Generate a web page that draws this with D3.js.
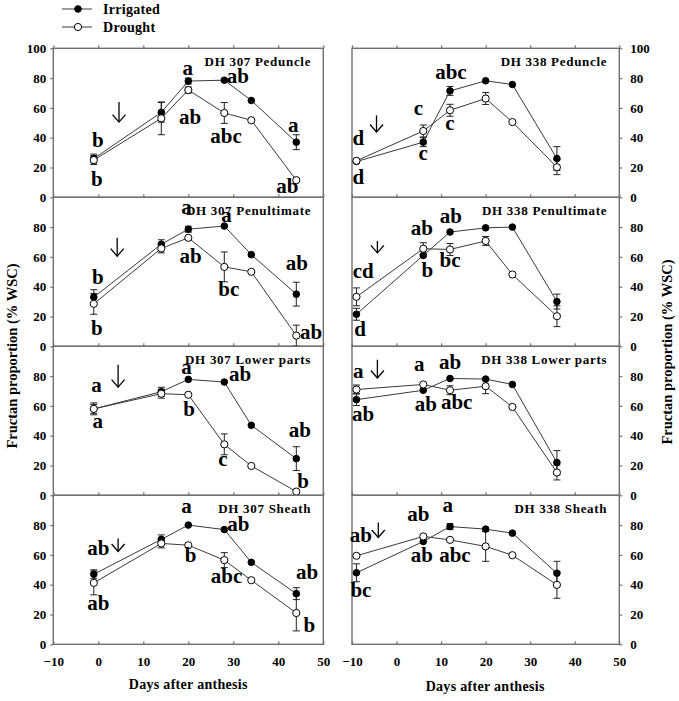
<!DOCTYPE html>
<html><head><meta charset="utf-8">
<script src="https://cdn.jsdelivr.net/npm/d3@7"></script>
<style>
html,body{margin:0;padding:0;background:#fff;}
text{font-family:"Liberation Serif","Times New Roman",serif;font-weight:bold;fill:#000;}
</style></head>
<body><svg id="chart" width="679" height="701"></svg>
<script>
// ---------------- data ----------------
const panelTitles = ["DH 307 Peduncle","DH 307 Penultimate","DH 307 Lower parts","DH 307 Sheath",
                     "DH 338 Peduncle","DH 338 Penultimate","DH 338 Lower parts","DH 338 Sheath"];
const daysDH307 = [-1, 14, 20, 28, 34, 44];
const daysDH338 = [-9, 6, 12, 20, 26, 36];
const seriesNames = ["Irrigated","Drought"];

const irrigatedMean = [
  [26, 57, 78, 78.6, 65, 37],
  [33, 68.5, 78.6, 80.7, 61.5, 35],
  [58, 69.5, 77.8, 76, 47, 24.6],
  [47, 70.4, 80, 77, 55, 34],
  [24, 37, 71.4, 78.2, 75.7, 26],
  [21.5, 61, 76.7, 79.5, 80, 30],
  [64.2, 70.5, 78.4, 78, 74.4, 22],
  [48, 69, 79, 77.3, 74.6, 47.7]
];
const irrigatedErr = [
  [3, 6.6, 2, 1, 1, 5],
  [5, 3, 2, 1, 1, 8],
  [3, 3, 1, 1, 1, 8],
  [3, 3, 1, 1, 1, 4],
  [1, 3, 3, 1, 1, 8],
  [4, 1, 1, 1, 1, 5],
  [4, 1, 1, 1, 1, 8],
  [6, 1, 2, 1, 1, 8]
];
const droughtMean = [
  [25, 53, 72, 56.6, 51.7, 11.5],
  [28.5, 65.7, 72.8, 53.3, 50, 7.2],
  [58, 68.2, 67.5, 34.2, 19.7, 2.5],
  [41.2, 67.7, 66.5, 56.5, 43, 21],
  [24.5, 44.5, 58.4, 66.3, 50.5, 20.2],
  [33.2, 65.5, 65, 70.7, 48.2, 20.2],
  [71, 74.4, 70.5, 73.2, 59.3, 15.3],
  [59.4, 72.4, 70.1, 65.7, 59.8, 39.9]
];
const droughtErr = [
  [3, 11, 2, 7, 1, 1],
  [7, 3, 1, 10, 1, 7],
  [4, 3, 1, 7, 1, 1],
  [8, 3, 1, 5, 1, 12],
  [1, 4, 4, 4, 1, 5],
  [6, 4, 4, 3, 1, 7],
  [3, 1, 3, 5, 1, 5],
  [1, 1, 1, 10, 1, 9]
];
// significance letters: [panel, day, value(baseline), text]
const sigLetters = [
  [0,-0.1,33.7,"b"],[0,-0.3,7.9,"b"],[0,19.9,82,"a"],[0,31,76.4,"ab"],[0,20.4,49,"ab"],[0,28.4,36.4,"abc"],[0,43.3,43.8,"a"],[0,42,2.7,"ab"],
  [1,-0.1,42,"b"],[1,-0.3,7.8,"b"],[1,19.6,89,"a"],[1,28.5,83.4,"a"],[1,20.5,56,"ab"],[1,29,34,"bc"],[1,44.1,51.5,"ab"],[1,47.3,5,"ab"],
  [2,-0.4,69.3,"a"],[2,-0.1,45,"a"],[2,19.6,81.6,"a"],[2,31.5,76.5,"ab"],[2,20.2,53.2,"b"],[2,27.7,20,"c"],[2,44.8,39,"ab"],[2,45.5,5,"b"],
  [3,0,59.8,"ab"],[3,0,23.3,"ab"],[3,19.6,88.3,"a"],[3,31.1,76.2,"ab"],[3,20.5,55.3,"b"],[3,28.5,41.2,"abc"],[3,46.4,43.5,"ab"],[3,46.9,8.3,"b"],
  [4,-8.6,34.8,"d"],[4,-8.6,9,"d"],[4,4.9,55,"c"],[4,6.0,24.7,"c"],[4,12.2,79.1,"abc"],[4,12,45,"c"],
  [5,-7.5,45.9,"cd"],[5,-8.2,6.7,"d"],[5,5.7,74.4,"ab"],[5,6.9,46.6,"b"],[5,12.2,82.5,"ab"],[5,12,53.3,"bc"],
  [6,-8.6,78.4,"a"],[6,-7.5,50,"ab"],[6,5.1,83.4,"a"],[6,6.6,56.3,"ab"],[6,12,85,"ab"],[6,13.5,58.1,"abc"],
  [7,-8.0,68.8,"ab"],[7,-8.0,32,"bc"],[7,4.9,82.5,"ab"],[7,5.7,55.3,"ab"],[7,11.5,88.5,"a"],[7,13.1,55.3,"abc"]
];
// drought-onset arrows: [day, from value, to value]
const arrowMarks = [
  [4.6,64,50.5],[4.2,72.8,60.5],[4.4,87.6,72.6],[4.4,71,62.3],
  [-4.5,55,43.8],[-4.3,70.6,62.7],[-4.3,91,78.7],[-4.1,81.8,71.7]
];
const xTicks = [-10, 0, 10, 20, 30, 40, 50];
const yTicks = [0, 20, 40, 60, 80];
const yTicksTop = [0, 20, 40, 60, 80, 100];
const xAxisTitle = "Days after anthesis";
const yAxisTitle = "Fructan proportion (% WSC)";

// ---------------- layout ----------------
const svg = d3.select("#chart");
const colX = [[53.3, 323.3], [352, 619.3]];
const top0 = 48.3, ph = 149;
const frameColor = "#707070", lineColor = "#3a3a3a";

for (let p = 0; p < 8; p++) {
  const col = p < 4 ? 0 : 1, row = p % 4;
  const x = d3.scaleLinear().domain([-10, 50]).range(colX[col]);
  const y = d3.scaleLinear().domain([0, 100]).range([top0 + (row + 1) * ph, top0 + row * ph]);
  const days = col === 0 ? daysDH307 : daysDH338;
  const g = svg.append("g");

  // frame
  g.append("rect").attr("x", x(-10)).attr("y", y(100)).attr("width", x(50) - x(-10)).attr("height", y(0) - y(100))
    .attr("fill", "none").attr("stroke", frameColor).attr("stroke-width", 1.4);

  // bottom x axis (ticks pointing up)
  const xa = g.append("g").attr("transform", `translate(0,${y(0)})`)
    .call(d3.axisBottom(x).tickValues(xTicks).tickSizeInner(-3).tickSizeOuter(0).tickPadding(12)
      .tickFormat(row === 3 ? d3.format("d") : () => ""));
  xa.select(".domain").remove();
  xa.selectAll("line").attr("stroke", frameColor).attr("stroke-width", 1.2);
  xa.selectAll("text").style("font-size", "13px").attr("fill", "#000");
  if (row === 0) {
    const xt = g.append("g").attr("transform", `translate(0,${y(100)})`)
      .call(d3.axisTop(x).tickValues(xTicks).tickSize(3).tickFormat(() => ""));
    xt.select(".domain").remove();
    xt.selectAll("line").attr("stroke", frameColor).attr("stroke-width", 1.2);
  }
  // y axis
  const yv = row === 0 ? yTicksTop : yTicks;
  let ya;
  if (col === 0) {
    ya = g.append("g").attr("transform", `translate(${x(-10)},0)`)
      .call(d3.axisLeft(y).tickValues(yv).tickSize(3).tickPadding(4).tickFormat(d3.format("d")));
  } else {
    ya = g.append("g").attr("transform", `translate(${x(50)},0)`)
      .call(d3.axisRight(y).tickValues(yv).tickSize(3).tickPadding(8).tickFormat(d3.format("d")));
  }
  ya.select(".domain").remove();
  ya.selectAll("line").attr("stroke", frameColor).attr("stroke-width", 1.2);
  ya.selectAll("text").style("font-size", "13px").attr("fill", "#000");

  // series
  const series = [
    { mean: irrigatedMean[p], err: irrigatedErr[p], fill: "#000", r: 3.3 },
    { mean: droughtMean[p], err: droughtErr[p], fill: "#fff", r: 3.6 }
  ];
  const line = d3.line().x(d => x(d[0])).y(d => y(d[1]));
  series.forEach(s => {
    g.append("path").datum(days.map((d, i) => [d, s.mean[i]])).attr("d", line)
      .attr("fill", "none").attr("stroke", lineColor).attr("stroke-width", 1);
  });
  series.forEach(s => {
    days.forEach((d, i) => {
      if (s.err[i] < 1.5) return;
      const cx = x(d), y1 = y(s.mean[i] + s.err[i]), y2 = y(s.mean[i] - s.err[i]);
      g.append("line").attr("x1", cx).attr("x2", cx).attr("y1", y1).attr("y2", y2).attr("stroke", "#222").attr("stroke-width", 1);
      [y1, y2].forEach(yy => g.append("line").attr("x1", cx - 3.5).attr("x2", cx + 3.5).attr("y1", yy).attr("y2", yy)
        .attr("stroke", "#222").attr("stroke-width", 1));
    });
  });
  series.forEach(s => {
    g.selectAll(null).data(days.map((d, i) => [d, s.mean[i]])).enter().append("circle")
      .attr("cx", d => x(d[0])).attr("cy", d => y(d[1])).attr("r", s.r)
      .attr("fill", s.fill).attr("stroke", "#000").attr("stroke-width", 1);
  });

  // title
  g.append("text").attr("x", x(47.3)).attr("y", y(88)).attr("text-anchor", "end")
    .style("font-size", "13px").style("letter-spacing", "0.7px").text(panelTitles[p]);

  // letters
  sigLetters.filter(l => l[0] === p).forEach(l => {
    g.append("text").attr("x", x(l[1])).attr("y", y(l[2])).attr("text-anchor", "middle")
      .style("font-size", "21px").text(l[3]);
  });

  // arrow
  const a = arrowMarks[p];
  const ax = x(a[0]), ay1 = y(a[1]), ay2 = y(a[2]);
  g.append("line").attr("x1", ax).attr("x2", ax).attr("y1", ay1).attr("y2", ay2).attr("stroke", "#000").attr("stroke-width", 1.3);
  g.append("polyline").attr("points", `${ax - 6.5},${ay2 - 7.5} ${ax},${ay2} ${ax + 6.5},${ay2 - 7.5}`)
    .attr("fill", "none").attr("stroke", "#000").attr("stroke-width", 1.3);

  // x axis title
  if (row === 3) {
    g.append("text").attr("x", (x(-10) + x(50)) / 2 + (col === 0 ? 0 : -0.5)).attr("y", col === 0 ? 689 : 691)
      .attr("text-anchor", "middle").style("font-size", "14px").style("letter-spacing", "0.3px").text(xAxisTitle);
  }
}

// y axis titles
svg.append("text").attr("transform", "translate(17,356) rotate(-90)").attr("text-anchor", "middle")
  .style("font-size", "14.5px").text(yAxisTitle);
svg.append("text").attr("transform", "translate(672,352) rotate(-90)").attr("text-anchor", "middle")
  .style("font-size", "14.5px").text(yAxisTitle);

// legend
const legend = svg.append("g");
seriesNames.forEach((name, i) => {
  const ly = 9 + i * 18;
  legend.append("line").attr("x1", 62).attr("x2", 92).attr("y1", ly).attr("y2", ly).attr("stroke", lineColor).attr("stroke-width", 1);
  legend.append("circle").attr("cx", 78).attr("cy", ly).attr("r", i === 0 ? 3.3 : 3.6)
    .attr("fill", i === 0 ? "#000" : "#fff").attr("stroke", "#000").attr("stroke-width", 1);
  legend.append("text").attr("x", 103).attr("y", ly + 5).style("font-size", "14px").style("letter-spacing", "0.3px").text(name);
});
</script></body></html>
